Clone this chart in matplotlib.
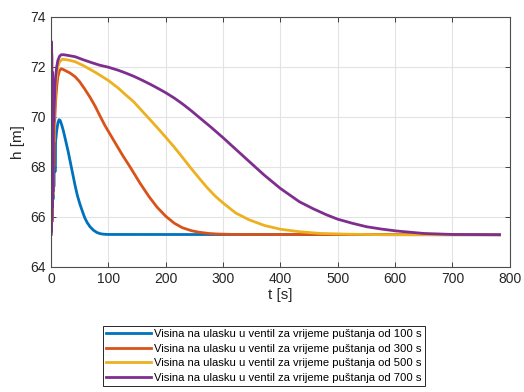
import numpy as np
import matplotlib.pyplot as plt

# Data (time in s, height in m)
t_early = [0, 0.4, 0.8, 1.2, 1.6, 2.0, 2.5, 3.0, 3.5, 4.0]

t_100 = t_early + [5, 6, 7, 8, 10, 12, 14, 16, 19, 22, 26, 30, 34, 38, 42, 46, 50.5, 55, 59, 63, 68, 74, 80, 86, 92, 100, 782]
h_100 = [65.3, 73.0, 65.4, 72.4, 65.9, 71.5, 66.3, 70.8, 66.7, 70.2,
         67.2, 69.4, 67.8, 69.0, 69.45, 69.75, 69.88, 69.85, 69.65, 69.4, 69.0, 68.6, 68.15, 67.7, 67.25,
         66.85, 66.5, 66.2, 65.95, 65.77, 65.6, 65.46, 65.37, 65.32, 65.3, 65.29, 65.28]

t_300 = t_early + [5, 6, 8, 10, 12, 15, 18, 22, 33, 42, 50, 59, 68, 77, 85, 94, 112, 125, 139, 155, 171, 185, 200, 215, 229, 245, 258, 275, 288, 320, 782]
h_300 = [65.3, 73.0, 65.4, 72.5, 65.9, 71.6, 66.4, 70.9, 66.9, 70.3,
         68.0, 69.6, 70.6, 71.2, 71.6, 71.85, 71.92, 71.88, 71.75, 71.6, 71.4, 71.1, 70.78, 70.42, 70.05,
         69.65, 68.95, 68.45, 67.95, 67.35, 66.8, 66.38, 66.02, 65.74, 65.56, 65.44, 65.38, 65.33, 65.31,
         65.29, 65.28]

t_500 = t_early + [5, 6, 8, 10, 12, 15, 20, 30, 42, 56, 77, 100, 117, 129, 144, 158, 172, 187, 200, 215, 229, 243, 258, 272, 286, 300, 322, 345, 372, 400, 433, 470, 520, 580, 782]
h_500 = [65.3, 73.0, 65.4, 72.5, 65.8, 71.7, 66.4, 70.9, 66.9, 70.3,
         69.0, 70.2, 71.2, 71.7, 72.0, 72.2, 72.3, 72.27, 72.2, 72.05, 71.78, 71.45, 71.15, 70.9, 70.6,
         70.25, 69.9, 69.52, 69.18, 68.78, 68.38, 67.97, 67.55, 67.17, 66.83, 66.55, 66.15, 65.88, 65.65,
         65.5, 65.4, 65.33, 65.3, 65.28, 65.28]

t_700 = t_early + [5, 6, 7, 8, 10, 12, 15, 18, 22, 30, 42, 56, 70, 85, 100, 117, 130, 144, 158, 172, 186, 200, 216, 230, 245, 258, 280, 300, 322, 345, 372, 400, 433, 457, 480, 500, 525, 550, 575, 602, 650, 700, 782]
h_700 = [65.3, 73.0, 65.4, 72.6, 65.8, 71.8, 66.4, 71.0, 67.0, 70.3,
         69.8, 70.6, 71.2, 71.6, 72.0, 72.25, 72.42, 72.48, 72.48, 72.45, 72.4, 72.28, 72.17, 72.06,
         71.98, 71.86, 71.75, 71.62, 71.47, 71.31, 71.14, 70.96, 70.73, 70.5, 70.23, 69.98, 69.56, 69.16,
         68.7, 68.22, 67.66, 67.13, 66.6, 66.32, 66.08, 65.9, 65.74, 65.6, 65.51, 65.43, 65.33, 65.29,
         65.28]

series = [(t_100, h_100), (t_300, h_300), (t_500, h_500), (t_700, h_700)]
labels = ['Visina na ulasku u ventil za vrijeme puštanja od 100 s',
          'Visina na ulasku u ventil za vrijeme puštanja od 300 s',
          'Visina na ulasku u ventil za vrijeme puštanja od 500 s',
          'Visina na ulasku u ventil za vrijeme puštanja od 700 s']
colors = ['#0072BD', '#D95319', '#EDB120', '#7E2F8E']

x_ticks = [0, 100, 200, 300, 400, 500, 600, 700, 800]
y_ticks = [64, 66, 68, 70, 72, 74]

plt.rcParams['font.family'] = ['Liberation Sans', 'DejaVu Sans']

fig = plt.figure(figsize=(5.24, 3.92), dpi=100)
ax = fig.add_axes([0.0973, 0.3196, 0.8757, 0.6378])

for (t, h), c, lab in zip(series, colors, labels):
    ax.plot(t, h, color=c, linewidth=2.0, label=lab)

ax.set_xlim(0, 800)
ax.set_ylim(64, 74)
ax.set_xticks(x_ticks)
ax.set_yticks(y_ticks)
ax.grid(True, color='#e3e3e3', linewidth=0.8)
ax.set_axisbelow(True)
ax.tick_params(direction='in', top=True, right=True, labelsize=10, colors='#262626', length=3.5, width=0.6)
for sp in ax.spines.values():
    sp.set_color('#4d4d4d')
    sp.set_linewidth(0.8)

ax.set_xlabel('t [s]', fontsize=11, color='#262626', labelpad=2)
ax.set_ylabel('h [m]', fontsize=11, color='#262626', labelpad=4)

leg = fig.legend(loc='upper center', bbox_to_anchor=(0.504, 0.183), fontsize=8.1,
                 handlelength=4.0, labelspacing=0.4, borderpad=0.3, handletextpad=0.25,
                 fancybox=False, edgecolor='#262626', framealpha=1)
leg.get_frame().set_linewidth(0.7)

plt.savefig('out.png', dpi=100)
